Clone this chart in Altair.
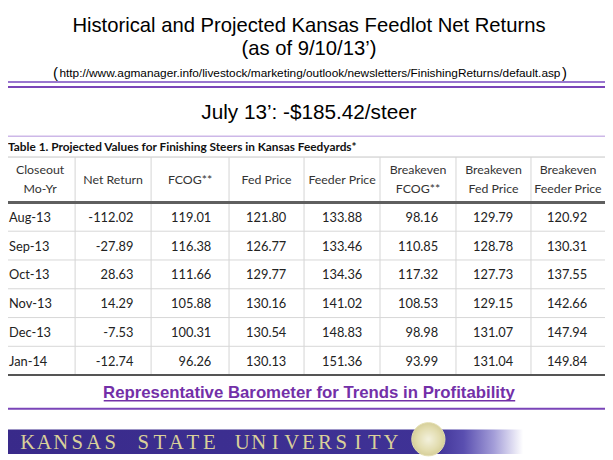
import altair as alt
import pandas as pd

# ---------------- data ----------------
MONTHS = ["Aug-13", "Sep-13", "Oct-13", "Nov-13", "Dec-13", "Jan-14"]
NET_RETURN = [-112.02, -27.89, 28.63, 14.29, -7.53, -12.74]
FCOG = [119.01, 116.38, 111.66, 105.88, 100.31, 96.26]
FED_PRICE = [121.80, 126.77, 129.77, 130.16, 130.54, 130.13]
FEEDER_PRICE = [133.88, 133.46, 134.36, 141.02, 148.83, 151.36]
BREAKEVEN_FCOG = [98.16, 110.85, 117.32, 108.53, 98.98, 93.99]
BREAKEVEN_FED = [129.79, 128.78, 127.73, 129.15, 131.07, 131.04]
BREAKEVEN_FEEDER = [120.92, 130.31, 137.55, 142.66, 147.94, 149.84]
HEADERS = ["Closeout\nMo-Yr", "Net Return", "FCOG**", "Fed Price", "Feeder Price",
           "Breakeven\nFCOG**", "Breakeven\nFed Price", "Breakeven\nFeeder Price"]

TITLE_1 = "Historical and Projected Kansas Feedlot Net Returns"
TITLE_2 = "(as of 9/10/13\u2019)"
SOURCE_URL = "http://www.agmanager.info/livestock/marketing/outlook/newsletters/FinishingReturns/default.asp"
HIGHLIGHT = "July 13\u2019: -$185.42/steer"
CAPTION = "Table 1. Projected Values for Finishing Steers in Kansas Feedyards*"
FOOTER = "Representative Barometer for Trends in Profitability"
BANNER = "KANSAS STATE UNIVERSITY"

VALUE_COLUMNS = [NET_RETURN, FCOG, FED_PRICE, FEEDER_PRICE,
                 BREAKEVEN_FCOG, BREAKEVEN_FED, BREAKEVEN_FEEDER]

# ---------------- layout (page pixels) ----------------
M = 8                       # page margin
W, H = 613 - M, 460 - M
COL_EDGES = [5, 76, 153, 232, 308, 385, 462, 538, 613]
ROW_EDGES = [156, 202, 377]  # header top, header bottom, table bottom
N_ROWS = len(MONTHS)
BANNER_SPAN = (28, 396)      # centres of first / last banner letter

SANS = '"Liberation Sans", Arial, sans-serif'
TABLE_FONT = 'Lato, "DejaVu Sans Condensed", sans-serif'
SERIF = '"Liberation Serif", "DejaVu Serif", serif'
PURPLE = "#7330a8"

XS = alt.Scale(domain=list(range(len(COL_EDGES))), range=[e - M for e in COL_EDGES],
               nice=False, zero=False)
YS = alt.Scale(domain=[-1, 0, N_ROWS], range=[r - M for r in ROW_EDGES],
               nice=False, zero=False)

# ---------------- table frames ----------------
value_rows, label_rows = [], []
for r, month in enumerate(MONTHS):
    label_rows.append({"row": r + 0.5, "edge": 0, "text": month})
    for c, col in enumerate(VALUE_COLUMNS):
        value_rows.append({"row": r + 0.5, "edge": c + 2, "text": f"{col[r]:.2f}"})
values_df = pd.DataFrame(value_rows)
labels_df = pd.DataFrame(label_rows)
headers_df = pd.DataFrame({"mid": [i + 0.5 for i in range(len(HEADERS))],
                           "row": [-0.5] * len(HEADERS), "text": HEADERS})
headers_df["lines"] = headers_df["text"].str.count("\n") + 1
inner_h = pd.DataFrame({"row": list(range(1, N_ROWS)), "a": 0, "b": len(COL_EDGES) - 1})
vert = pd.DataFrame({"edge": list(range(1, len(COL_EDGES) - 1)), "top": -1, "bottom": N_ROWS})
top_df = pd.DataFrame({"row": [-1], "a": [0], "b": [len(COL_EDGES) - 1]})
head_df = pd.DataFrame({"row": [0], "a": [0], "b": [len(COL_EDGES) - 1]})
bot_df = pd.DataFrame({"row": [N_ROWS], "a": [0], "b": [len(COL_EDGES) - 1]})

letters_df = pd.DataFrame({"i": list(range(len(BANNER))), "ch": list(BANNER)})
letters_df = letters_df[letters_df["ch"] != " "]

ONE = pd.DataFrame({"k": [0]})


def hrule(df, color, width):
    return alt.Chart(df).mark_rule(color=color, strokeWidth=width).encode(
        x=alt.X("a:Q", scale=XS, axis=None), x2="b:Q",
        y=alt.Y("row:Q", scale=YS, axis=None))


def text_at(txt, x, y, size, font=SANS, color="#000000", weight="normal", align="center"):
    return alt.Chart(ONE).mark_text(text=txt, font=font, fontSize=size, color=color,
                                    fontWeight=weight, align=align, baseline="middle").encode(
        x=alt.value(x - M), y=alt.value(y - M))


def line_at(y, x1, x2, color, width):
    return alt.Chart(ONE).mark_rule(color=color, strokeWidth=width).encode(
        x=alt.value(x1 - M), x2=alt.value(x2 - M), y=alt.value(y - M))


grid_v = alt.Chart(vert).mark_rule(color="#d4d4d4", strokeWidth=1).encode(
    x=alt.X("edge:Q", scale=XS, axis=None),
    y=alt.Y("top:Q", scale=YS, axis=None), y2="bottom:Q")
grid_h = hrule(inner_h, "#d6d6d6", 1)
top_line = hrule(top_df, "#c4c4c4", 1)
head_line = hrule(head_df, "#5f5f5f", 3)
bot_line = hrule(bot_df, "#555555", 2)


def header_layer(n_lines, dy):
    return alt.Chart(headers_df).transform_filter(
        alt.datum.lines == n_lines).mark_text(
        font=TABLE_FONT, fontSize=12.5, color="#333333", lineBreak="\n", lineHeight=19,
        baseline="middle", align="center", dy=dy).encode(
        x=alt.X("mid:Q", scale=XS, axis=None), y=alt.Y("row:Q", scale=YS, axis=None),
        text="text:N")


headers_1 = header_layer(1, 0)
headers_2 = header_layer(2, -9.5)
labels = alt.Chart(labels_df).mark_text(
    font=TABLE_FONT, fontSize=13, color="#222222", align="left", baseline="middle", dx=4,
    dy=1).encode(
    x=alt.X("edge:Q", scale=XS, axis=None), y=alt.Y("row:Q", scale=YS, axis=None),
    text="text:N")
values = alt.Chart(values_df).mark_text(
    font=TABLE_FONT, fontSize=13, color="#222222", align="right", baseline="middle",
    dx=-18, dy=1).encode(
    x=alt.X("edge:Q", scale=XS, axis=None), y=alt.Y("row:Q", scale=YS, axis=None),
    text="text:N")

# ---------------- slide decorations ----------------
banner = alt.Chart(ONE).mark_rect(color=alt.LinearGradient(
    gradient="linear", x1=0, x2=1, y1=0, y2=0,
    stops=[alt.GradientStop(color="#392a8a", offset=0),
           alt.GradientStop(color="#3f3296", offset=0.83),
           alt.GradientStop(color="#5a4fb0", offset=0.885),
           alt.GradientStop(color="#a39dd8", offset=0.943),
           alt.GradientStop(color="#ffffff", offset=1)])).encode(
    x=alt.value(7 - M), x2=alt.value(530 - M), y=alt.value(432 - M), y2=alt.value(457 - M))
seal = alt.Chart(ONE).mark_point(filled=True, shape="circle", size=1134, opacity=1,
                                 stroke="#e3ddb0", strokeWidth=1,
                                 color=alt.RadialGradient(
                                     gradient="radial",
                                     stops=[alt.GradientStop(color="#f3f1dd", offset=0),
                                            alt.GradientStop(color="#e2dcae", offset=0.7),
                                            alt.GradientStop(color="#d6cf9a", offset=1)])).encode(
    x=alt.value(434 - M), y=alt.value(442 - M))
banner_letters = alt.Chart(letters_df).mark_text(
    font=SERIF, fontSize=21, color="#d9d09a", align="center", baseline="middle").encode(
    x=alt.X("i:Q", axis=None, scale=alt.Scale(domain=[0, len(BANNER) - 1],
                                               range=[BANNER_SPAN[0] - M, BANNER_SPAN[1] - M],
                                               nice=False, zero=False)),
    y=alt.value(446 - M), text="ch:N")

layers = [
    line_at(80, 7, 613, "#9a76cf", 2),
    line_at(85, 7, 613, "#7a45b8", 2),
    line_at(135, 7, 613, "#cdb8e8", 1.5),
    line_at(411, 7, 613, "#7a45b8", 2),
    line_at(403, 105, 522, PURPLE, 1.5),
    banner, seal, banner_letters,
    text_at(TITLE_1, 313, 23, 20.5),
    text_at(TITLE_2, 313, 47, 20.5),
    text_at("(", 56, 71, 15),
    text_at(SOURCE_URL, 314, 71, 12),
    text_at(")", 572, 71, 15),
    text_at(HIGHLIGHT, 313, 111, 21),
    text_at(CAPTION, 8, 146, 12, font=TABLE_FONT, color="#111111", weight="bold", align="left"),
    text_at(FOOTER, 313, 395, 17, color=PURPLE, weight="bold"),
    top_line, grid_v, grid_h, head_line, bot_line, headers_1, headers_2, labels, values,
]

chart = alt.layer(*layers).resolve_scale(x="independent", y="independent").properties(
    width=W, height=H, padding=0, autosize="none", background="white"
).configure_view(strokeWidth=0)

chart.save("out.html", embed_options={"renderer": "svg", "actions": False})
